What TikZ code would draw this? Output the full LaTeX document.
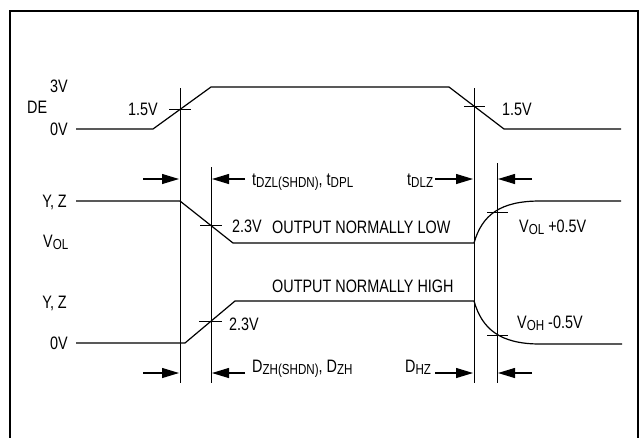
\documentclass[tikz,border=0pt]{standalone}
\usepackage{fontspec}
\setmainfont{Liberation Sans}[FakeStretch=0.8]
\usetikzlibrary{arrows.meta}
\newcommand\sbx[1]{\raisebox{-2.5pt}{\fontsize{14.5}{14.5}\selectfont #1}}
\begin{document}
\begin{tikzpicture}[x=1pt,y=-1pt,
  wave/.style={line width=1.2pt,line join=miter},
  guide/.style={line width=1pt},
  tick/.style={line width=1pt},
  frm/.style={line width=2.4pt},
  arr/.style={line width=1.1pt,-{Triangle[length=17pt,width=10pt]}},
  lbl/.style={inner sep=0pt,font=\fontsize{18}{20}\selectfont},
]
\useasboundingbox (0,0) rectangle (644,437);
\draw[frm] (10,440) -- (10,11) -- (638,11) -- (638,440);

% guide lines
\coordinate (g1t) at (180,88);  \coordinate (g1b) at (180,383);
\coordinate (g2t) at (211,167); \coordinate (g2b) at (211,383);
\coordinate (g3t) at (474,88);  \coordinate (g3b) at (474,383);
\coordinate (g4t) at (497,163); \coordinate (g4b) at (497,383);
\draw[guide] (g1t) -- (g1b);
\draw[guide] (g2t) -- (g2b);
\draw[guide] (g3t) -- (g3b);
\draw[guide] (g4t) -- (g4b);

% DE waveform
\draw[wave] (76,129) -- (153,129) -- (211,87) -- (449,87) -- (504,129) -- (621,129);
\draw[tick] (169,109) -- (191,109);
\draw[tick] (464,106) -- (485,106);

% Y,Z normally low
\draw[wave] (76,201) -- (180,201) -- (233,243) -- (474,243)
  .. controls (482,215) and (500,201) .. (540,201) -- (621,201);
\draw[tick] (200,225) -- (222,225);
\draw[tick] (487,212) -- (508,212);

% Y,Z normally high
\draw[wave] (76,343) -- (185,343) -- (235,301) -- (474,301)
  .. controls (482,329) and (500,344) .. (540,344) -- (622,344);
\draw[tick] (199,321) -- (222,321);
\draw[tick] (487,335) -- (508,335);

% arrows upper
\coordinate (a1s) at (143,179); \coordinate (a1e) at (179,179);
\coordinate (a2s) at (245,179); \coordinate (a2e) at (212,179);
\coordinate (a3s) at (435,179); \coordinate (a3e) at (473,179);
\coordinate (a4s) at (532,179); \coordinate (a4e) at (498,179);
\draw[arr] (a1s) -- (a1e);
\draw[arr] (a2s) -- (a2e);
\draw[arr] (a3s) -- (a3e);
\draw[arr] (a4s) -- (a4e);
% arrows lower
\coordinate (b1s) at (143,373); \coordinate (b1e) at (179,373);
\coordinate (b2s) at (245,373); \coordinate (b2e) at (212,373);
\coordinate (b3s) at (435,373); \coordinate (b3e) at (473,373);
\coordinate (b4s) at (532,373); \coordinate (b4e) at (498,373);
\draw[arr] (b1s) -- (b1e);
\draw[arr] (b2s) -- (b2e);
\draw[arr] (b3s) -- (b3e);
\draw[arr] (b4s) -- (b4e);

% labels
\node[lbl,anchor=base west] (l3v) at (50,92.5) {3V};
\node[lbl,anchor=base west] (lde) at (27,113.5) {DE};
\node[lbl,anchor=base east] (l0v) at (68,135.5) {0V};
\node[lbl,anchor=base west] (l15a) at (128,115) {1.5V};
\node[lbl,anchor=base west] (l15b) at (502,115) {1.5V};
\node[lbl,anchor=base east] (lyz1) at (67,207) {Y, Z};
\node[lbl,anchor=base west] (lvol) at (43,247) {V\sbx{OL}};
\node[lbl,anchor=base west] (ltd) at (252,185) {t\sbx{DZL(SHDN)}, t\sbx{DPL}};
\node[lbl,anchor=base west] (ltdlz) at (407,185) {t\sbx{DLZ}};
\node[lbl,anchor=base west] (l23a) at (232,232) {2.3V};
\node[lbl,anchor=base west] (lonl) at (272,233) {OUTPUT NORMALLY LOW};
\node[lbl,anchor=base west] (lvolp) at (519,232) {V\sbx{OL} +0.5V};
\node[lbl,anchor=base west] (lonh) at (272,292) {OUTPUT NORMALLY HIGH};
\node[lbl,anchor=base east] (lyz2) at (67,308) {Y, Z};
\node[lbl,anchor=base west] (l23b) at (229,330) {2.3V};
\node[lbl,anchor=base west] (lvohm) at (517,328) {V\sbx{OH} -0.5V};
\node[lbl,anchor=base east] (l0vb) at (68,349) {0V};
\node[lbl,anchor=base west] (ldzh) at (252,372) {D\sbx{ZH(SHDN)}, D\sbx{ZH}};
\node[lbl,anchor=base west] (ldhz) at (405,372) {D\sbx{HZ}};
\end{tikzpicture}
\end{document}
